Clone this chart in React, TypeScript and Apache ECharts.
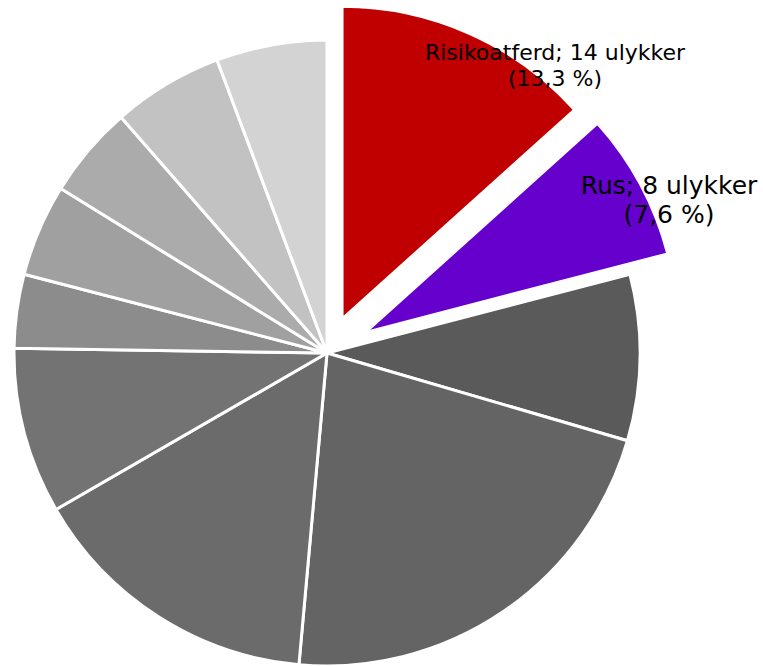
import React, { useEffect, useRef } from "react";
import * as echarts from "echarts";

const categories = [
  "Risikoatferd",
  "Rus",
  "Kategori 3",
  "Kategori 4",
  "Kategori 5",
  "Kategori 6",
  "Kategori 7",
  "Kategori 8",
  "Kategori 9",
  "Kategori 10",
  "Kategori 11",
];
const values = [14, 8, 9, 23, 16, 9, 4, 5, 5, 6, 6];
const colors = [
  "#c00000",
  "#6600cc",
  "#5a5a5a",
  "#646464",
  "#6b6b6b",
  "#737373",
  "#8c8c8c",
  "#a0a0a0",
  "#ababab",
  "#c2c2c2",
  "#d3d3d3",
];

const CENTER = [327, 353];
const RADIUS = 313;

const fmt = (p: any) =>
  `${p.name}; ${p.value} ulykker\n(${Number(p.percent).toFixed(1).replace(".", ",")} %)`;

// center of an exploded slice, shifted along its bisector
function explodedCenter(idx: number, dist: number) {
  const total = values.reduce((a, b) => a + b, 0);
  const before = values.slice(0, idx).reduce((a, b) => a + b, 0);
  const mid = ((before + values[idx] / 2) / total) * 2 * Math.PI;
  return [CENTER[0] + dist * Math.sin(mid), CENTER[1] - dist * Math.cos(mid)];
}

function buildData(visible: (i: number) => boolean, labelIdx: number, labelStyle: any) {
  return categories.map((name, i) => {
    const show = visible(i);
    return {
      name,
      value: values[i],
      itemStyle: show
        ? { color: colors[i], borderColor: "#ffffff", borderWidth: 3 }
        : { color: "rgba(0,0,0,0)", borderWidth: 0 },
      label: i === labelIdx && labelStyle ? { show: true, ...labelStyle } : { show: false },
    };
  });
}

export default function App() {
  const ref = useRef<HTMLDivElement>(null);
  useEffect(() => {
    if (!ref.current) return;
    const chart = echarts.init(ref.current, null, { renderer: "svg" });
    const base = {
      type: "pie",
      radius: RADIUS,
      startAngle: 90,
      clockwise: true,
      avoidLabelOverlap: false,
      percentPrecision: 1,
      emphasis: { disabled: true },
      labelLine: { show: false },
      silent: true,
    };
    const labelCommon = {
      position: "inside",
      formatter: fmt,
      color: "#000000",
      fontFamily: "DejaVu Sans, Verdana, sans-serif",
      align: "center",
    };
    chart.setOption({
      animation: false,
      backgroundColor: "#ffffff",
      series: [
        {
          ...base,
          center: CENTER,
          data: buildData((i) => i >= 2, -1, null),
          label: { show: false },
        },
        {
          ...base,
          center: explodedCenter(0, 37),
          data: buildData((i) => i === 0, 0, { ...labelCommon, fontSize: 22, lineHeight: 26 }),
          label: { show: false },
          labelLayout: () => ({ x: 555, y: 65, align: "center", verticalAlign: "middle" }),
        },
        {
          ...base,
          center: explodedCenter(1, 43),
          data: buildData((i) => i === 1, 1, { ...labelCommon, fontSize: 25, lineHeight: 29 }),
          label: { show: false },
          labelLayout: () => ({ x: 669, y: 200, align: "center", verticalAlign: "middle" }),
        },
      ],
    });
    return () => chart.dispose();
  }, []);
  return (
    <div
      ref={ref}
      style={{ position: "fixed", left: 0, top: 0, width: 763, height: 666, background: "#fff" }}
    />
  );
}
